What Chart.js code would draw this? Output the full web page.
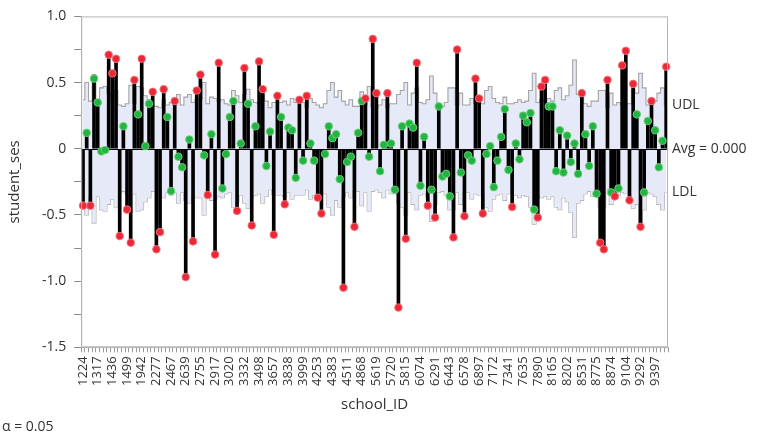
<!DOCTYPE html>
<html>
<head>
<meta charset="utf-8">
<script src="https://cdn.jsdelivr.net/npm/chart.js@4.4.1/dist/chart.umd.min.js"></script>
<style>
  html, body { margin: 0; padding: 0; background: #fff; }
  #wrap { width: 760px; height: 438px; position: relative; }
</style>
</head>
<body>
<div id="wrap"><canvas id="anomChart"></canvas></div>
<script>
// school IDs (every 4th one is labelled on the axis)
const schoolIds = [
  '1224','1288','1296','1308','1317','1358','1374','1433','1436','1461',
  '1462','1477','1499','1637','1906','1909','1942','1946','2030','2208',
  '2277','2305','2336','2458','2467','2526','2626','2629','2639','2651',
  '2655','2658','2755','2768','2771','2818','2917','2990','2995','3013',
  '3020','3039','3088','3152','3332','3351','3377','3427','3498','3499',
  '3533','3610','3657','3688','3705','3716','3838','3881','3967','3992',
  '3999','4042','4173','4223','4253','4292','4325','4350','4383','4410',
  '4420','4458','4511','4523','4530','4642','4868','4931','5192','5404',
  '5619','5640','5650','5667','5720','5761','5762','5783','5815','5819',
  '5838','5937','6074','6089','6144','6170','6291','6366','6397','6415',
  '6443','6464','6469','6484','6578','6600','6808','6816','6897','6990',
  '7011','7101','7172','7232','7276','7332','7341','7342','7345','7364',
  '7635','7688','7697','7734','7890','7919','8009','8150','8165','8175',
  '8188','8193','8202','8357','8367','8477','8531','8627','8628','8707',
  '8775','8800','8854','8857','8874','8946','8983','9021','9104','9158',
  '9198','9225','9292','9340','9347','9359','9397','9508','9550','9586'
];

// mean student_ses per school
const schoolMeans = [
  -0.43, 0.12, -0.43, 0.53, 0.35, -0.02, -0.01, 0.71, 0.57, 0.68,
  -0.66, 0.17, -0.46, -0.71, 0.52, 0.26, 0.68, 0.02, 0.34, 0.43,
  -0.76, -0.63, 0.45, 0.24, -0.32, 0.36, -0.06, -0.14, -0.97, 0.07,
  -0.70, 0.44, 0.56, -0.05, -0.35, 0.11, -0.80, 0.65, -0.30, -0.04,
  0.24, 0.36, -0.47, 0.04, 0.61, 0.34, -0.58, 0.17, 0.66, 0.45,
  -0.13, 0.13, -0.65, 0.40, 0.24, -0.42, 0.16, 0.14, -0.22, 0.37,
  -0.09, 0.40, 0.04, -0.09, -0.37, -0.49, -0.04, 0.17, 0.08, 0.11,
  -0.23, -1.05, -0.10, -0.06, -0.59, 0.12, 0.36, 0.38, -0.06, 0.83,
  0.42, -0.17, 0.03, 0.42, 0.04, -0.31, -1.20, 0.17, -0.68, 0.19,
  0.16, 0.65, -0.28, 0.09, -0.43, -0.31, -0.52, 0.32, -0.21, -0.19,
  -0.36, -0.67, 0.75, -0.18, -0.51, -0.05, -0.09, 0.53, 0.38, -0.49,
  -0.04, 0.02, -0.29, -0.09, 0.09, 0.30, -0.16, -0.44, 0.04, -0.08,
  0.25, 0.20, 0.27, -0.46, -0.52, 0.47, 0.52, 0.32, 0.32, -0.17,
  0.14, -0.18, 0.10, -0.10, 0.04, -0.19, 0.42, 0.11, -0.13, 0.17,
  -0.34, -0.71, -0.76, 0.52, -0.33, -0.36, -0.30, 0.63, 0.74, -0.39,
  0.49, 0.26, -0.59, -0.33, 0.21, 0.36, 0.14, -0.14, 0.06, 0.62
];

// upper decision limit per school
const udl = [
  0.37, 0.50, 0.36, 0.56, 0.36, 0.46, 0.47, 0.42, 0.38, 0.44,
  0.33, 0.32, 0.34, 0.48, 0.34, 0.47, 0.46, 0.40, 0.37, 0.32,
  0.32, 0.31, 0.37, 0.33, 0.35, 0.33, 0.41, 0.33, 0.39, 0.41,
  0.35, 0.37, 0.37, 0.50, 0.34, 0.39, 0.38, 0.36, 0.37, 0.34,
  0.33, 0.44, 0.40, 0.35, 0.41, 0.45, 0.37, 0.35, 0.34, 0.41,
  0.36, 0.31, 0.35, 0.35, 0.35, 0.36, 0.33, 0.38, 0.35, 0.35,
  0.35, 0.31, 0.38, 0.35, 0.33, 0.31, 0.34, 0.44, 0.50, 0.39,
  0.44, 0.36, 0.33, 0.37, 0.32, 0.32, 0.43, 0.33, 0.47, 0.32,
  0.31, 0.33, 0.37, 0.31, 0.34, 0.34, 0.41, 0.44, 0.50, 0.33,
  0.42, 0.46, 0.35, 0.34, 0.37, 0.55, 0.42, 0.33, 0.32, 0.35,
  0.46, 0.46, 0.33, 0.42, 0.33, 0.33, 0.38, 0.34, 0.35, 0.34,
  0.44, 0.47, 0.38, 0.35, 0.34, 0.39, 0.34, 0.34, 0.35, 0.37,
  0.35, 0.36, 0.44, 0.57, 0.35, 0.37, 0.36, 0.38, 0.36, 0.44,
  0.46, 0.37, 0.40, 0.48, 0.67, 0.41, 0.39, 0.34, 0.32, 0.36,
  0.36, 0.44, 0.44, 0.31, 0.42, 0.33, 0.35, 0.33, 0.34, 0.34,
  0.45, 0.42, 0.57, 0.46, 0.33, 0.34, 0.36, 0.42, 0.46, 0.33
];

// lower decision limit per school
const ldl = [
  -0.37, -0.50, -0.36, -0.56, -0.36, -0.46, -0.47, -0.42, -0.38, -0.44,
  -0.33, -0.32, -0.34, -0.48, -0.34, -0.47, -0.46, -0.40, -0.37, -0.32,
  -0.32, -0.31, -0.37, -0.33, -0.35, -0.33, -0.41, -0.33, -0.39, -0.41,
  -0.35, -0.37, -0.37, -0.50, -0.34, -0.39, -0.38, -0.36, -0.37, -0.34,
  -0.33, -0.44, -0.40, -0.35, -0.41, -0.45, -0.37, -0.35, -0.34, -0.41,
  -0.36, -0.31, -0.35, -0.35, -0.35, -0.36, -0.33, -0.38, -0.35, -0.35,
  -0.35, -0.31, -0.38, -0.35, -0.33, -0.31, -0.34, -0.44, -0.50, -0.39,
  -0.44, -0.36, -0.33, -0.37, -0.32, -0.32, -0.43, -0.33, -0.47, -0.32,
  -0.31, -0.33, -0.37, -0.31, -0.34, -0.34, -0.41, -0.44, -0.50, -0.33,
  -0.42, -0.46, -0.35, -0.34, -0.37, -0.55, -0.42, -0.33, -0.32, -0.35,
  -0.46, -0.46, -0.33, -0.42, -0.33, -0.33, -0.38, -0.34, -0.35, -0.34,
  -0.44, -0.47, -0.38, -0.35, -0.34, -0.39, -0.34, -0.34, -0.35, -0.37,
  -0.35, -0.36, -0.44, -0.57, -0.35, -0.37, -0.36, -0.38, -0.36, -0.44,
  -0.46, -0.37, -0.40, -0.48, -0.67, -0.41, -0.39, -0.34, -0.32, -0.36,
  -0.36, -0.44, -0.44, -0.31, -0.42, -0.33, -0.35, -0.33, -0.34, -0.34,
  -0.45, -0.42, -0.57, -0.46, -0.33, -0.34, -0.36, -0.42, -0.46, -0.33
];

const yTicks = [-1.5, -1.0, -0.5, 0, 0.5, 1.0];
const avgValue = 0;
const alpha = 0.05;

const FONT = "'Open Sans', 'DejaVu Sans', sans-serif";
const RED = 'rgb(234, 40, 54)';
const GREEN = 'rgb(34, 180, 66)';

// red when outside the decision limits
const outside = schoolMeans.map((v, i) => v > udl[i] || v < ldl[i]);
const pointColors = outside.map(o => (o ? RED : GREEN));
const pointEdges = outside.map(o => (o ? 'rgba(246,120,130,0.9)' : 'rgba(110,210,120,0.9)'));

const decoration = {
  id: 'decoration',
  afterDatasetDraw(chart, args) {
    // centre line drawn over the shaded band, under the needles
    if (args.index !== 2) return;
    const { ctx, chartArea: a, scales: { y } } = chart;
    const py = Math.round(y.getPixelForValue(avgValue)) + 0.5;
    ctx.save();
    ctx.strokeStyle = '#000';
    ctx.lineWidth = 1;
    ctx.beginPath();
    ctx.moveTo(a.left, py);
    ctx.lineTo(a.right, py);
    ctx.stroke();
    ctx.restore();
  },
  afterDraw(chart) {
    const { ctx, chartArea: a, scales: { y } } = chart;
    const last = udl.length - 1;
    ctx.save();
    ctx.strokeStyle = '#b4b4b4';
    ctx.lineWidth = 1;
    ctx.strokeRect(a.left + 0.5, a.top + 0.5, a.width - 1, a.height - 1);
    ctx.fillStyle = '#333';
    ctx.font = '14px ' + FONT;
    ctx.textAlign = 'left';
    ctx.textBaseline = 'middle';
    ctx.fillText('UDL', a.right + 4, y.getPixelForValue(udl[last]));
    ctx.fillText('Avg = ' + avgValue.toFixed(3), a.right + 4, y.getPixelForValue(avgValue));
    ctx.fillText('LDL', a.right + 4, y.getPixelForValue(ldl[last]));
    ctx.fillText('\u03b1 = ' + alpha, 2, chart.height - 11);
    ctx.restore();
  }
};

new Chart(document.getElementById('anomChart'), {
  type: 'bar',
  data: {
    labels: schoolIds,
    datasets: [
      {
        type: 'line',
        label: 'school mean',
        data: schoolMeans,
        showLine: false,
        pointRadius: 3.8,
        pointBorderWidth: 1,
        pointBackgroundColor: pointColors,
        pointBorderColor: pointEdges,
        order: 0
      },
      {
        type: 'bar',
        label: 'needle',
        data: schoolMeans,
        backgroundColor: '#000',
        barThickness: 3,
        order: 1
      },
      {
        type: 'line',
        label: 'UDL',
        data: udl,
        stepped: 'middle',
        borderColor: '#a3a3a3',
        borderWidth: 1.1,
        pointRadius: 0,
        fill: '+1',
        backgroundColor: 'rgb(230, 233, 247)',
        order: 2
      },
      {
        type: 'line',
        label: 'LDL',
        data: ldl,
        stepped: 'middle',
        borderColor: '#a3a3a3',
        borderWidth: 1.1,
        pointRadius: 0,
        fill: false,
        order: 3
      }
    ]
  },
  options: {
    responsive: true,
    maintainAspectRatio: false,
    animation: false,
    layout: { padding: { left: 6, right: 92, top: 5, bottom: 24 } },
    plugins: {
      legend: { display: false },
      tooltip: { enabled: false }
    },
    scales: {
      x: {
        offset: true,
        border: { color: '#b4b4b4' },
        grid: { drawOnChartArea: false, tickLength: 5, color: '#9a9a9a' },
        ticks: {
          autoSkip: false,
          minRotation: 90,
          maxRotation: 90,
          padding: 4,
          color: '#333',
          font: { family: FONT, size: 13 },
          callback: (val, idx) => (idx % 4 === 0 ? schoolIds[idx] : '')
        },
        title: {
          display: true,
          text: 'school_ID',
          color: '#333',
          font: { family: FONT, size: 15 },
          padding: { top: 6, bottom: 0 }
        }
      },
      y: {
        min: yTicks[0],
        max: yTicks[yTicks.length - 1],
        border: { color: '#b4b4b4' },
        grid: {
          color: 'rgba(0,0,0,0)',
          tickColor: '#8a8a8a',
          tickLength: 7
        },
        ticks: {
          stepSize: 0.25,
          padding: 8,
          color: '#333',
          font: { family: FONT, size: 14 },
          callback: (v) => {
            const hit = yTicks.find(t => Math.abs(t - v) < 1e-9);
            if (hit === undefined) return '';
            return hit === 0 ? '0' : hit.toFixed(1);
          }
        },
        title: {
          display: true,
          text: 'student_ses',
          color: '#333',
          font: { family: FONT, size: 15 },
          padding: { top: 0, bottom: 10 }
        }
      }
    }
  },
  plugins: [decoration]
});
</script>
</body>
</html>
